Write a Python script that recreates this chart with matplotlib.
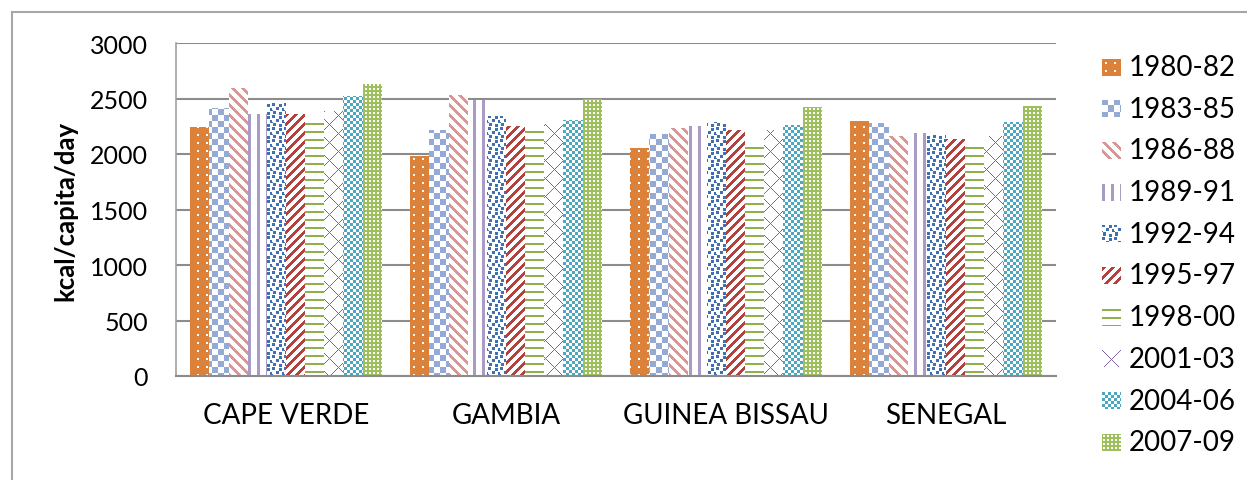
import numpy as np
import matplotlib.pyplot as plt
from matplotlib.path import Path
from matplotlib.patches import Rectangle

countries = ['CAPE VERDE', 'GAMBIA', 'GUINEA BISSAU', 'SENEGAL']
periods = ['1980-82', '1983-85', '1986-88', '1989-91', '1992-94',
           '1995-97', '1998-00', '2001-03', '2004-06', '2007-09']

# kcal/capita/day, one value per period
cape_verde = [2240, 2410, 2595, 2360, 2460, 2360, 2330, 2385, 2525, 2630]
gambia = [1985, 2215, 2530, 2490, 2340, 2250, 2260, 2270, 2310, 2500]
guinea_bissau = [2050, 2180, 2230, 2250, 2290, 2215, 2110, 2215, 2265, 2420]
senegal = [2295, 2280, 2160, 2190, 2170, 2135, 2110, 2165, 2285, 2430]

colors = ['#DC8139', '#95A9D5', '#DA9694', '#A99BC3', '#3F70B2',
          '#B3423F', '#8EB14E', '#7F62A5', '#4CA8C1', '#9DBF5C']

CONFETTI = [
    "###.........",
    "###....###..",
    "###....###..",
    ".......###..",
    "....###.....",
    "....###...##",
    "....###...##",
    "#.........##",
    ".###........",
    ".###...###..",
    ".###...###..",
    ".......###..",
]


def pattern_mask(k, rows, cols):
    yy, xx = np.mgrid[0:rows, 0:cols]
    if k == 0:    # white dots on colour
        return ~(((xx % 9) >= 3) & ((xx % 9) <= 4) & ((yy % 8) >= 3) & ((yy % 8) <= 4))
    if k == 1:    # large checkerboard
        return ((xx // 6 + yy // 6) % 2) == 0
    if k == 2:    # wide downward diagonal
        return ((xx - yy) % 10) < 4
    if k == 3:    # vertical stripes
        return (xx % 9) < 3
    if k == 4:    # confetti
        tile = np.array([[c == '#' for c in row] for row in CONFETTI])
        return tile[yy % tile.shape[0], xx % tile.shape[1]]
    if k == 5:    # wide upward diagonal
        return ((xx + yy) % 9) < 4
    if k == 6:    # horizontal lines
        return (yy % 8) < 2
    if k == 7:    # diamond lattice
        return ((xx + yy) % 18 == 0) | ((xx - yy) % 18 == 0)
    if k == 8:    # small checkerboard
        return ((xx // 3 + yy // 3) % 2) == 0
    # small grid: white squares on colour
    return ~(((xx % 4) >= 1) & ((xx % 4) <= 2) & ((yy % 4) >= 1) & ((yy % 4) <= 2))


def pattern_rgb(k, rows, cols):
    mask = pattern_mask(k, rows, cols)
    fg = np.array(plt.matplotlib.colors.to_rgb(colors[k]))
    img = np.ones((rows, cols, 3))
    img[mask] = fg
    return img


plt.rcParams['font.family'] = ['Lato', 'DejaVu Sans']

W, H = 1247, 481
fig = plt.figure(figsize=(W / 100, H / 100), dpi=100)
ax_l, ax_b, ax_w, ax_h = 176, 104, 880, 333
ax = fig.add_axes([ax_l / W, ax_b / H, ax_w / W, ax_h / H])

fig.add_artist(Rectangle((12 / W, -0.1), 1.2, (H - 13) / H + 0.1,
                         transform=fig.transFigure, fill=False,
                         edgecolor='#a6a6a6', linewidth=1.5))

values = np.array([cape_verde, gambia, guinea_bissau, senegal])
x = np.arange(len(countries))
n = len(periods)
width = 1 / (n + 1.5)

ax.set_xlim(-0.5, len(countries) - 0.5)
ax.set_ylim(0, 3000)

for k, label in enumerate(periods):
    bars = ax.bar(x + (k - (n - 1) / 2) * width, values[:, k], width,
                  facecolor='none', edgecolor='none', label=label)
    clip = Path.make_compound_path(
        *[b.get_path().transformed(b.get_patch_transform()) for b in bars])
    im = ax.imshow(pattern_rgb(k, ax_h, ax_w), extent=(-0.5, len(countries) - 0.5, 0, 3000),
                   aspect='auto', interpolation='nearest', origin='upper', zorder=2)
    im.set_clip_path(clip, ax.transData)

ax.set_yticks(np.arange(0, 3001, 500))
ax.set_xticks(x)
ax.set_xticklabels(countries)
ax.grid(axis='y', color='#8c8c8c', linewidth=1.5)
ax.set_axisbelow(True)
for side in ['top', 'right']:
    ax.spines[side].set_visible(False)
ax.spines['left'].set_color('#a0a0a0')
ax.spines['left'].set_linewidth(1.2)
ax.spines['bottom'].set_color('#8c8c8c')
ax.spines['bottom'].set_linewidth(1.5)
ax.tick_params(axis='y', length=0, pad=20, labelsize=18)
ax.tick_params(axis='x', length=0, pad=19, labelsize=20)

ax.set_ylabel('kcal/capita/day', fontsize=18.5, fontweight='bold')
ax.yaxis.set_label_coords(-0.126, 0.5)
ax.yaxis.label.set_va('center')

# legend: swatches with the same fill patterns, labels beside them
for k, label in enumerate(periods):
    yc = 68 + k * 41.7
    sw = fig.add_axes([1102 / W, (H - yc - 8.5) / H, 19 / W, 17 / H])
    sw.imshow(pattern_rgb(k, 17, 19), interpolation='nearest', aspect='auto')
    sw.axis('off')
    fig.text(1129 / W, 1 - yc / H, label, fontsize=20, ha='left', va='center')

fig.savefig('out.png', dpi=100)
